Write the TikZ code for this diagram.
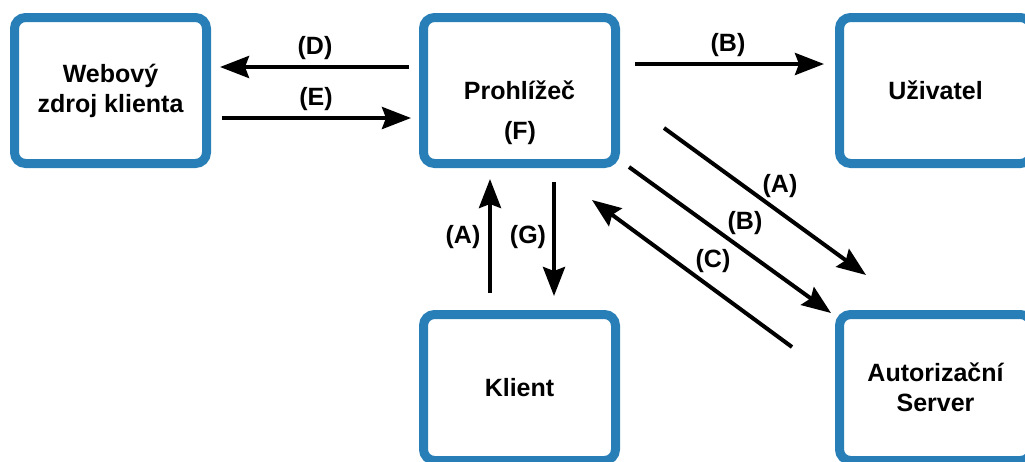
\documentclass[tikz,border=0pt]{standalone}
\usepackage{fontspec}
\setmainfont{Liberation Sans}
\usetikzlibrary{arrows.meta}
\definecolor{boxblue}{RGB}{40,126,183}
\begin{document}
\begin{tikzpicture}[x=1pt,y=-1pt,
  txt/.style={font=\bfseries\fontsize{25}{30}\selectfont},
  box/.style={txt, draw=boxblue, line width=9pt, rounded corners=11pt,
    minimum width=192pt, minimum height=146pt, inner sep=0pt, align=center, fill=white},
  lbl/.style={txt, inner sep=0pt},
  flow/.style={line width=4pt, -{Stealth[length=29pt,width=22pt,inset=4pt]}}
]
\useasboundingbox (0,0) rectangle (1025,461);
\clip (0,0) rectangle (1025,461);

% boxes
\node[box] (web)   at (110.5,90.5)  {Webový\\zdroj klienta};
\node[box] (prohl) at (519.5,90.5)  {Prohlížeč};
\node[lbl] (f)     at (520,133)     {(F)};
\node[box] (user)  at (935.5,90.5)  {Uživatel};
\node[box] (klient) at (519.5,387.5) {Klient};
\node[box] (auth)  at (935.5,387.5) {Autorizační\\Server};

% free arrow ends
\coordinate (d0) at (409,67);   \coordinate (d1) at (220,67);
\coordinate (e0) at (222,118);  \coordinate (e1) at (411,118);
\coordinate (b0) at (635,64);   \coordinate (b1) at (824,64);
\coordinate (va0) at (490,293); \coordinate (va1) at (490,179);
\coordinate (vg0) at (554,182); \coordinate (vg1) at (554,296);
\coordinate (da0) at (664,128); \coordinate (da1) at (866,275);
\coordinate (db0) at (629,167); \coordinate (db1) at (831,313);
\coordinate (dc0) at (792,347); \coordinate (dc1) at (592,200);

% connectors
\draw[flow] (d0) -- (d1);
\draw[flow] (e0) -- (e1);
\draw[flow] (b0) -- (b1);
\draw[flow] (va0) -- (va1);
\draw[flow] (vg0) -- (vg1);
\draw[flow] (da0) -- (da1);
\draw[flow] (db0) -- (db1);
\draw[flow] (dc0) -- (dc1);

% connector labels
\node[lbl] (ld)  at (315,48.5)  {(D)};
\node[lbl] (le)  at (316,99)    {(E)};
\node[lbl] (lb)  at (728,45)    {(B)};
\node[lbl] (lva) at (463,237.5) {(A)};
\node[lbl] (lvg) at (528,237.5) {(G)};
\node[lbl] (lda) at (780,186)   {(A)};
\node[lbl] (ldb) at (745,223.5) {(B)};
\node[lbl] (ldc) at (713,261.5) {(C)};
\end{tikzpicture}
\end{document}
